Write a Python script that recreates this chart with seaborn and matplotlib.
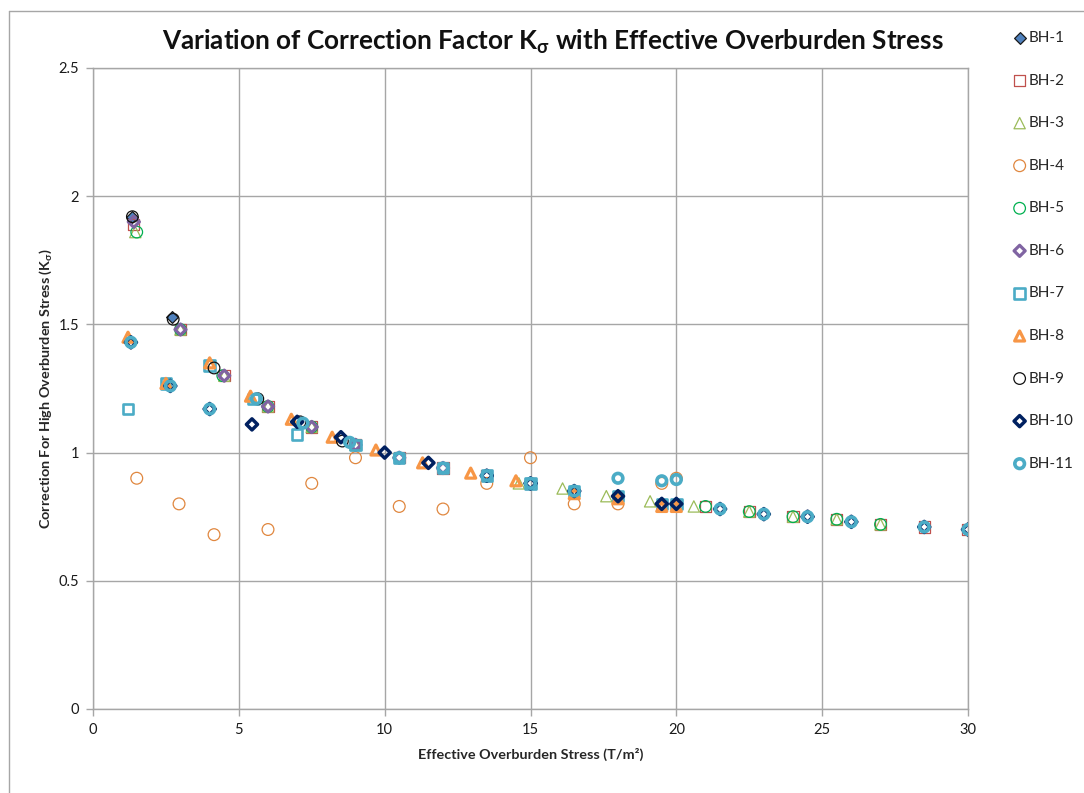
import matplotlib
matplotlib.use("Agg")
import matplotlib.pyplot as plt
from matplotlib.lines import Line2D
import seaborn as sns
import pandas as pd

# Effective overburden stress (T/m^2) and correction factor K_sigma per borehole
bh1_x = [1.35, 2.7]
bh1_y = [1.92, 1.53]

bh2_x = [1.4, 3.0, 4.5, 6.0, 7.5, 9.0, 10.5, 12.0, 13.5, 15.0, 21.0, 22.5, 24.0, 25.5, 27.0, 28.5, 30.0]
bh2_y = [1.89, 1.48, 1.30, 1.18, 1.10, 1.03, 0.98, 0.94, 0.91, 0.88, 0.79, 0.77, 0.75, 0.74, 0.72, 0.71, 0.70]

bh3_x = [1.45, 3.0, 4.5, 6.0, 7.5, 9.0, 14.6, 16.1, 17.6, 19.1, 20.6, 22.5, 24.0, 25.5, 27.0]
bh3_y = [1.86, 1.48, 1.30, 1.18, 1.10, 1.03, 0.88, 0.86, 0.83, 0.81, 0.79, 0.77, 0.75, 0.74, 0.72]

bh4_x = [1.5, 2.95, 4.15, 6.0, 7.5, 9.0, 10.5, 12.0, 13.5, 15.0, 16.5, 18.0, 19.5, 20.0]
bh4_y = [0.90, 0.80, 0.68, 0.70, 0.88, 0.98, 0.79, 0.78, 0.88, 0.98, 0.80, 0.80, 0.88, 0.90]

bh5_x = [1.5, 3.0, 4.45, 6.0, 7.5, 9.0, 21.0, 22.5, 24.0, 25.5, 27.0]
bh5_y = [1.86, 1.48, 1.30, 1.18, 1.10, 1.03, 0.79, 0.77, 0.75, 0.74, 0.72]

bh6_x = [1.4, 3.0, 4.5, 6.0, 7.5, 9.0, 10.5, 12.0]
bh6_y = [1.90, 1.48, 1.30, 1.18, 1.10, 1.03, 0.98, 0.94]

bh7_x = [1.2, 2.5, 4.0, 5.5, 7.0, 9.0, 10.5, 12.0, 13.5, 15.0, 16.5, 18.0, 19.5, 20.0]
bh7_y = [1.17, 1.27, 1.34, 1.21, 1.07, 1.03, 0.98, 0.94, 0.91, 0.88, 0.85, 0.83, 0.80, 0.80]

bh8_x = [1.2, 2.5, 4.0, 5.4, 6.8, 8.2, 9.7, 11.3, 12.95, 14.5, 16.5, 18.0, 19.5, 20.0]
bh8_y = [1.45, 1.27, 1.35, 1.22, 1.13, 1.06, 1.01, 0.96, 0.92, 0.89, 0.84, 0.82, 0.79, 0.79]

bh9_x = [1.35, 2.75, 4.15, 5.65, 7.1, 8.55]
bh9_y = [1.92, 1.52, 1.33, 1.21, 1.12, 1.045]

bh10_x = [1.3, 2.65, 4.0, 5.45, 7.0, 8.5, 10.0, 11.5, 13.5, 15.0, 16.5, 18.0, 19.5, 20.0,
          21.5, 23.0, 24.5, 26.0, 28.5, 30.0]
bh10_y = [1.43, 1.26, 1.17, 1.11, 1.12, 1.06, 1.00, 0.96, 0.91, 0.88, 0.85, 0.83, 0.80, 0.80,
          0.78, 0.76, 0.75, 0.73, 0.71, 0.70]

bh11_x = [1.3, 2.65, 4.0, 5.6, 7.2, 8.8, 10.5, 12.0, 13.5, 15.0, 16.5, 18.0, 19.5, 20.0,
          21.5, 23.0, 24.5, 26.0, 28.5, 30.0]
bh11_y = [1.43, 1.26, 1.17, 1.21, 1.115, 1.04, 0.98, 0.94, 0.91, 0.88, 0.85, 0.90, 0.89, 0.895,
          0.78, 0.76, 0.75, 0.73, 0.71, 0.70]

labels = ["BH-1", "BH-2", "BH-3", "BH-4", "BH-5", "BH-6", "BH-7", "BH-8", "BH-9", "BH-10", "BH-11"]
xs = [bh1_x, bh2_x, bh3_x, bh4_x, bh5_x, bh6_x, bh7_x, bh8_x, bh9_x, bh10_x, bh11_x]
ys = [bh1_y, bh2_y, bh3_y, bh4_y, bh5_y, bh6_y, bh7_y, bh8_y, bh9_y, bh10_y, bh11_y]

# marker, size (pt^2), face colour, edge colour, edge width
styles = [
    ("D", 36, "#4F81BD", "#1a1a1a", 0.9),
    ("s", 64, "none", "#C0504D", 0.9),
    ("^", 66, "none", "#9BBB59", 0.9),
    ("o", 72, "none", "#E0873F", 0.9),
    ("o", 70, "none", "#00B050", 0.9),
    ("D", 32, "none", "#8064A2", 2.3),
    ("s", 56, "none", "#4BACC6", 1.9),
    ("^", 52, "none", "#F79646", 2.3),
    ("o", 70, "none", "#111111", 0.9),
    ("D", 32, "none", "#002060", 2.5),
    ("o", 48, "none", "#4BACC6", 2.6),
]

sns.set_theme(style="white")
plt.rcParams["font.family"] = ["Lato", "DejaVu Sans"]
plt.rcParams["mathtext.fontset"] = "custom"
plt.rcParams["mathtext.rm"] = "Lato"
plt.rcParams["mathtext.bf"] = "Lato:bold"
plt.rcParams["mathtext.default"] = "regular"

fig = plt.figure(figsize=(10.84, 7.93), dpi=100)
ax = fig.add_axes([93 / 1084, 1 - 709 / 793, (968 - 93) / 1084, (709 - 68) / 793])

for lab, x, y, (m, s, fc, ec, lw) in zip(labels, xs, ys, styles):
    df = pd.DataFrame({"stress": x, "k": y})
    sns.scatterplot(data=df, x="stress", y="k", ax=ax, marker=m, s=s,
                    facecolor=fc, edgecolor=ec, linewidth=lw, label=lab, zorder=3)

grid_c = "#A6A6A6"
ax.set_xlim(0, 30)
ax.set_ylim(0, 2.5)
ax.set_xticks(range(0, 31, 5))
ax.set_yticks([0, 0.5, 1, 1.5, 2, 2.5])
ax.set_yticklabels(["0", "0.5", "1", "1.5", "2", "2.5"])
ax.grid(True, color=grid_c, linewidth=1.0)
ax.set_axisbelow(True)
for sp in ax.spines.values():
    sp.set_color(grid_c)
    sp.set_linewidth(1.0)
ax.tick_params(axis="both", which="major", direction="out", length=5, width=1,
               color=grid_c, labelsize=10.5, labelcolor="#1a1a1a", pad=5,
               left=True, bottom=True)

ax.set_xlabel("Effective Overburden Stress (T/m²)", fontsize=10.4, fontweight="bold", labelpad=8)
ax.set_ylabel(r"Correction For High Overburden Stress (K$_σ$)", fontsize=10.4,
              fontweight="bold", labelpad=3)

fig.text(553 / 1084, 1 - 42 / 793,
         r"Variation of Correction Factor K$_σ$ with Effective Overburden Stress",
         ha="center", va="center", fontsize=18.8, fontweight="bold", color="#111111")

leg = ax.legend(loc="upper left", bbox_to_anchor=(1012 / 1084, 1 - 31 / 793),
                bbox_transform=fig.transFigure, frameon=False, fontsize=11,
                labelspacing=1.87, handletextpad=0.1, handlelength=1.0,
                borderpad=0, borderaxespad=0)

# outer chart border
fig.add_artist(Line2D([9 / 1084, 9 / 1084], [0, 1 - 11 / 793], transform=fig.transFigure,
                      color=grid_c, linewidth=1.0))
fig.add_artist(Line2D([9 / 1084, 1], [1 - 11 / 793, 1 - 11 / 793], transform=fig.transFigure,
                      color=grid_c, linewidth=1.0))

fig.savefig("out.png", dpi=100, facecolor="white")
